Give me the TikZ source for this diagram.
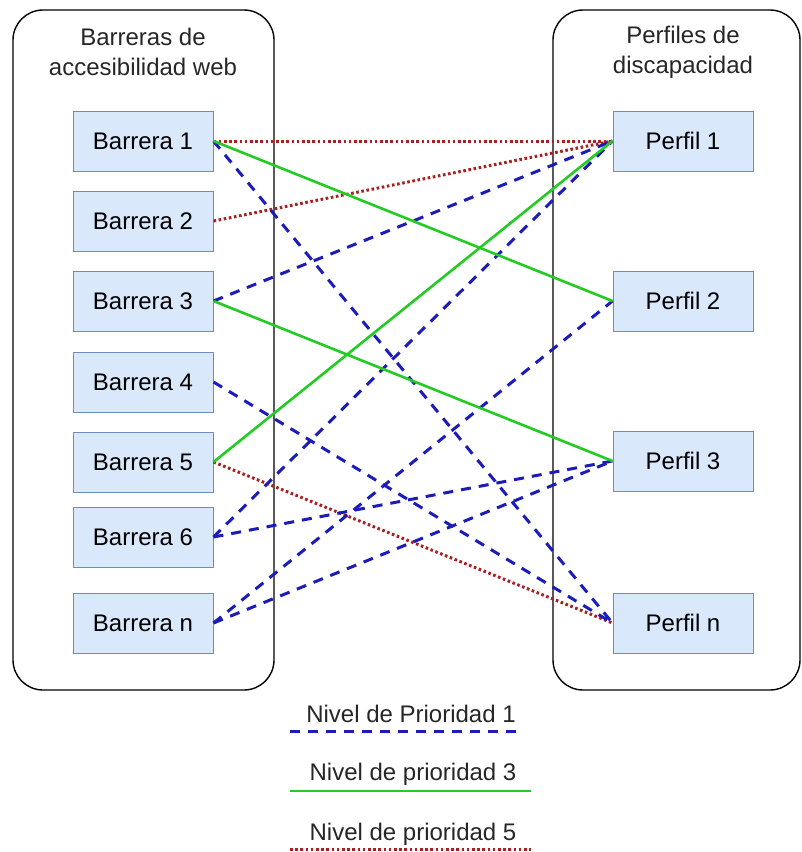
\documentclass[tikz,border=0pt]{standalone}
\usepackage{fontspec}
\setmainfont{Liberation Sans}
\usepackage{tikz}
\usetikzlibrary{positioning}
\definecolor{cajafondo}{HTML}{DAE8FC}
\definecolor{cajaborde}{HTML}{6C8EBF}
\definecolor{azulp}{HTML}{1C1CB8}
\definecolor{verdep}{HTML}{22CC22}
\definecolor{rojop}{HTML}{A82020}

\begin{document}
\begin{tikzpicture}[x=0.5pt,y=-0.5pt,font=\fontsize{12}{15}\selectfont]
    \tikzstyle{grupo}=[draw=black,line width=0.7pt,rounded corners=15pt]
    \tikzstyle{caja}=[rectangle,draw=cajaborde,fill=cajafondo,line width=0.5pt,minimum width=70pt,minimum height=30pt,inner sep=0pt]
    \tikzstyle{titulo}=[align=center,text=black!85]
    \tikzstyle{prio1}=[draw=azulp,line width=1.5pt,dash pattern=on 5pt off 4pt]
    \tikzstyle{prio3}=[draw=verdep,line width=1.3pt]
    \tikzstyle{prio5}=[draw=rojop,line width=1.5pt,dash pattern=on 1.3pt off 1.3pt]

    \useasboundingbox (0,0) rectangle (802,852);

    % contenedores
    \draw[grupo] (13,10) rectangle (274,690);
    \draw[grupo] (553,10) rectangle (800,690);
    \node[titulo] (tbar) at (143,52) {Barreras de\\accesibilidad web};
    \node[titulo] (tper) at (683,52) {Perfiles de\\discapacidad};

    % barreras
    \node[caja] (b1) at (143,141) {Barrera 1};
    \node[caja] (b2) at (143,221) {Barrera 2};
    \node[caja] (b3) at (143,301) {Barrera 3};
    \node[caja] (b4) at (143,382) {Barrera 4};
    \node[caja] (b5) at (143,462) {Barrera 5};
    \node[caja] (b6) at (143,537) {Barrera 6};
    \node[caja] (bn) at (143,623) {Barrera n};

    % perfiles
    \node[caja] (p1) at (683,141) {Perfil 1};
    \node[caja] (p2) at (683,301) {Perfil 2};
    \node[caja] (p3) at (683,461) {Perfil 3};
    \node[caja] (pn) at (683,623) {Perfil n};

    % nivel de prioridad 5
    \path[prio5] (b1.east) -- (p1.west);
    \path[prio5] (b2.east) -- (p1.west);
    \path[prio5] (b5.east) -- (pn.west);

    % nivel de prioridad 1
    \path[prio1] (b1.east) -- (pn.west);
    \path[prio1] (b3.east) -- (p1.west);
    \path[prio1] (b4.east) -- (pn.west);
    \path[prio1] (b6.east) -- (p1.west);
    \path[prio1] (b6.east) -- (p3.west);
    \path[prio1] (bn.east) -- (p2.west);
    \path[prio1] (bn.east) -- (p3.west);

    % nivel de prioridad 3
    \path[prio3] (b1.east) -- (p2.west);
    \path[prio3] (b3.east) -- (p3.west);
    \path[prio3] (b5.east) -- (p1.west);

    % leyenda
    \node[titulo] (ley1) at (411,714) {Nivel de Prioridad 1};
    \node[titulo] (ley3) at (413,774) {Nivel de prioridad 3};
    \node[titulo] (ley5) at (413,834) {Nivel de prioridad 5};
    \coordinate (l1a) at (290,731);
    \coordinate (l1b) at (521,731);
    \coordinate (l3a) at (290,791);
    \coordinate (l3b) at (531,791);
    \coordinate (l5a) at (290,849);
    \coordinate (l5b) at (531,849);
    \path[prio1] (l1a) -- (l1b);
    \path[prio3] (l3a) -- (l3b);
    \path[prio5] (l5a) -- (l5b);
\end{tikzpicture}
\end{document}
